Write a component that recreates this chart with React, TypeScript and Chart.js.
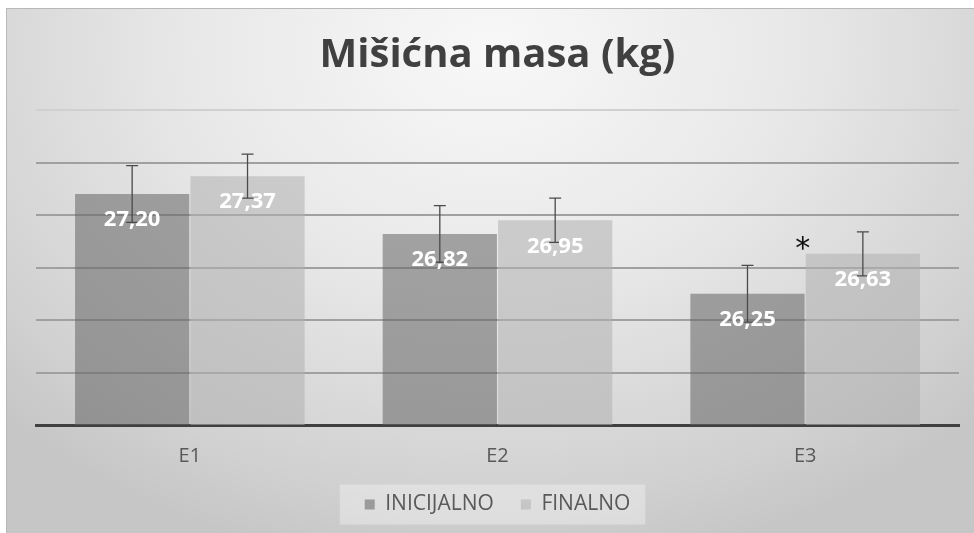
import React, { useEffect, useRef } from 'react';
import { Chart, registerables } from 'chart.js';

Chart.register(...registerables);

const TITLE = 'Mišićna masa (kg)';
const categories = ['E1', 'E2', 'E3'];
const seriesNames = ['INICIJALNO', 'FINALNO'];
const inicijalno = [27.2, 26.82, 26.25];
const finalno = [27.37, 26.95, 26.63];
const inicijalnoSD = [0.27, 0.27, 0.27];
const finalnoSD = [0.21, 0.21, 0.21];
const inicijalnoMarks = ['', '', ''];
const finalnoMarks = ['', '', '*'];
const yMin = 25;
const yMax = 28;
const yStep = 0.5;

const errors = [inicijalnoSD, finalnoSD];
const marks = [inicijalnoMarks, finalnoMarks];

const fmt = (v: number) => v.toFixed(2).replace('.', ',');

const overlayPlugin = {
  id: 'overlay',
  beforeDraw(chart: any) {
    const lg = chart.legend;
    if (!lg || !lg.legendHitBoxes || !lg.legendHitBoxes.length) return;
    const hb = lg.legendHitBoxes;
    const l = Math.min(...hb.map((h: any) => h.left)) - 25;
    const r = Math.max(...hb.map((h: any) => h.left + h.width)) + 15;
    const cy = hb[0].top + hb[0].height / 2;
    const ctx = chart.ctx;
    ctx.save();
    ctx.fillStyle = 'rgba(255,255,255,0.32)';
    ctx.fillRect(l, cy - 20, r - l, 40);
    ctx.restore();
  },
  afterDatasetsDraw(chart: any) {
    const ctx = chart.ctx;
    const y = chart.scales.y;
    chart.data.datasets.forEach((ds: any, di: number) => {
      const meta = chart.getDatasetMeta(di);
      meta.data.forEach((bar: any, i: number) => {
        const v = ds.data[i];
        const sd = errors[di][i];
        const x = bar.x;
        const top = y.getPixelForValue(v + sd);
        const bot = y.getPixelForValue(v - sd);
        ctx.save();
        ctx.strokeStyle = '#4a4a4a';
        ctx.lineWidth = 1.3;
        ctx.beginPath();
        ctx.moveTo(x, top);
        ctx.lineTo(x, bot);
        ctx.moveTo(x - 6, top);
        ctx.lineTo(x + 6, top);
        ctx.moveTo(x - 6, bot);
        ctx.lineTo(x + 6, bot);
        ctx.stroke();
        ctx.restore();

        ctx.save();
        ctx.fillStyle = '#ffffff';
        ctx.font = 'bold 22px "Open Sans"';
        ctx.textAlign = 'center';
        ctx.textBaseline = 'middle';
        ctx.fillText(fmt(v), x, bar.y + 26);
        ctx.restore();

        const m = marks[di][i];
        if (m) {
          ctx.save();
          ctx.fillStyle = '#111111';
          ctx.font = '30px "DejaVu Sans"';
          ctx.textAlign = 'center';
          ctx.textBaseline = 'alphabetic';
          const tm = ctx.measureText(m);
          const asc = tm.actualBoundingBoxAscent;
          const desc = tm.actualBoundingBoxDescent;
          const left = bar.x - bar.width / 2;
          const cyy = bar.y - 11;
          ctx.fillText(m, left - 3, cyy + (asc - desc) / 2);
          ctx.restore();
        }
      });
    });
  },
};

export default function App() {
  const ref = useRef<HTMLCanvasElement | null>(null);

  useEffect(() => {
    if (!ref.current) return;
    Chart.defaults.font.family = '"Open Sans", sans-serif';
    const chart = new Chart(ref.current, {
      type: 'bar',
      data: {
        labels: categories,
        datasets: [
          {
            label: seriesNames[0],
            data: inicijalno,
            backgroundColor: 'rgba(100,100,100,0.55)',
            borderWidth: 0,
            categoryPercentage: 0.75,
            barPercentage: 0.99,
          },
          {
            label: seriesNames[1],
            data: finalno,
            backgroundColor: 'rgba(176,176,176,0.55)',
            borderWidth: 0,
            categoryPercentage: 0.75,
            barPercentage: 0.99,
          },
        ],
      },
      options: {
        animation: false,
        responsive: false,
        maintainAspectRatio: false,
        layout: { padding: { left: 30, right: 15, top: 0, bottom: 8 } },
        plugins: {
          title: {
            display: true,
            text: TITLE,
            color: '#404040',
            font: { size: 40, weight: 'bold' },
            padding: { top: 24, bottom: 30 },
          },
          legend: {
            display: true,
            position: 'bottom',
            labels: {
              boxWidth: 10,
              boxHeight: 10,
              color: '#595959',
              font: { size: 21 },
              padding: 27,
            },
          },
          tooltip: { enabled: false },
        },
        scales: {
          x: {
            grid: { display: false, drawTicks: false },
            border: { display: true, color: '#404040', width: 3 },
            ticks: { color: '#595959', font: { size: 20 }, padding: 19 },
            afterFit: (s: any) => {
              s.height = 42;
            },
          },
          y: {
            min: yMin,
            max: yMax,
            ticks: { stepSize: yStep, display: false },
            grid: {
              drawTicks: false,
              lineWidth: 2,
              color: (c: any) => (c.tick && c.tick.value === yMax ? '#d0d0d0' : '#a0a0a0'),
            },
            border: { display: false },
            afterFit: (s: any) => {
              s.width = 0;
            },
          },
        },
      },
      plugins: [overlayPlugin],
    } as any);
    return () => chart.destroy();
  }, []);

  return (
    <div
      style={{
        position: 'fixed',
        left: 6,
        top: 8,
        width: 968,
        height: 525,
        background:
          'radial-gradient(ellipse 70% 100% at 50% 8%, #f8f8f8 0%, #e8e8e8 45%, #d1d1d1 85%, #c6c6c6 100%)',
        boxShadow: 'inset 1px 1px 0 #b8b8b8',
      }}
    >
      <canvas ref={ref} width={968} height={525} style={{ display: 'block' }} />
    </div>
  );
}
